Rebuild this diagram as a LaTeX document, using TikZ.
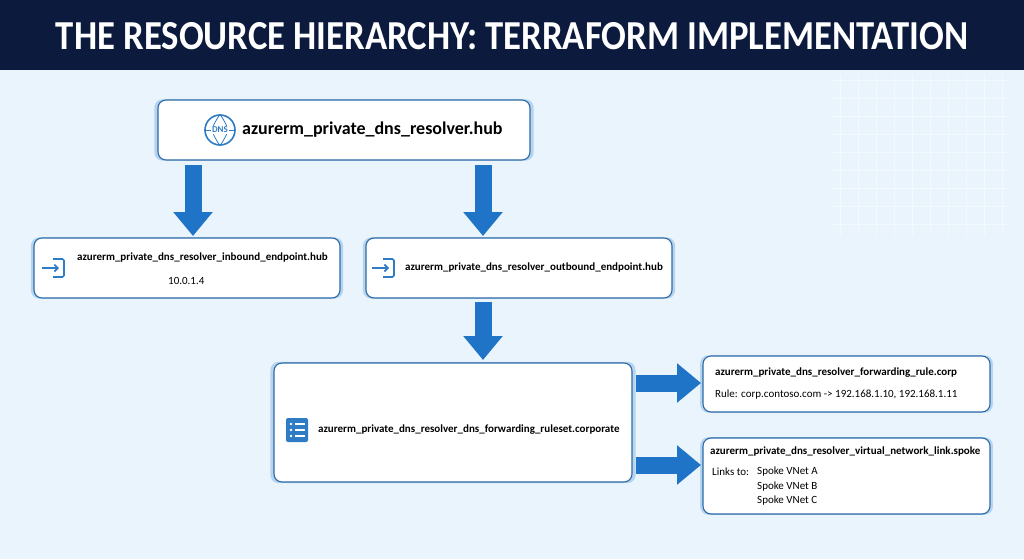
\documentclass[tikz,border=0pt]{standalone}
\usepackage{fontspec}
\setmainfont{Carlito}
\usetikzlibrary{arrows.meta,shadows}
\definecolor{navy}{HTML}{0B1A3D}
\definecolor{bg}{HTML}{EAF4FC}
\definecolor{bord}{HTML}{2A6AA8}
\definecolor{arr}{HTML}{1F74C8}
\definecolor{ico}{HTML}{2E7CC6}
\begin{document}
\begin{tikzpicture}[x=1pt,y=-1pt,
  box/.style={draw=bord,line width=1.1pt,fill=white,rounded corners=8pt,
    drop shadow={shadow xshift=0pt,shadow yshift=0pt,fill=arr,opacity=.25,shadow scale=1.02}},
  bigarrow/.style={line width=17pt,draw=arr,-{Triangle[width=38pt,length=24pt]}},
  lbl/.style={anchor=west,inner sep=0pt,font=\bfseries\fontsize{11}{13}\selectfont},
  sub/.style={anchor=west,inner sep=0pt,font=\fontsize{11}{13}\selectfont}]
\useasboundingbox (0,0) rectangle (1024,559);
\fill[bg] (0,0) rectangle (1024,559);
\fill[navy] (0,0) rectangle (1024,70);
\node[text=white,font=\bfseries] (title) at (512,36) {\resizebox{912pt}{27pt}{THE RESOURCE HIERARCHY: TERRAFORM IMPLEMENTATION}};
% faint grid
\foreach \i in {0,...,9}{\draw[white,line width=.6pt,opacity=.5] (840+\i*18,75) -- (840+\i*18,235);}
\foreach \j in {0,...,8}{\draw[white,line width=.6pt,opacity=.5] (830,80+\j*18) -- (1010,80+\j*18);}
% boxes
\node[box,minimum width=372pt,minimum height=60pt] (top) at (344,130) {};
\node[box,minimum width=306pt,minimum height=60pt] (inb) at (187,268) {};
\node[box,minimum width=306pt,minimum height=60pt] (outb) at (519,268) {};
\node[box,minimum width=358pt,minimum height=119pt] (rs) at (453,422.5) {};
\node[box,minimum width=287pt,minimum height=56pt] (rule) at (846.5,384) {};
\node[box,minimum width=287pt,minimum height=76pt] (vnet) at (846.5,476) {};
% icons
\node[circle,draw=ico,line width=1.6pt,minimum size=30pt,inner sep=0pt] (dnsicon) at (220,130) {};
\draw[ico,line width=.8pt] (dnsicon.north) .. controls (210,130) .. (dnsicon.south);
\draw[ico,line width=.8pt] (dnsicon.north) .. controls (230,130) .. (dnsicon.south);
\draw[ico,line width=.8pt] (dnsicon.west) -- (dnsicon.east);
\node[fill=white,inner sep=1pt,text=ico,font=\bfseries\fontsize{9}{9}\selectfont] (dnstxt) at (220,130) {DNS};
\node[lbl,font=\bfseries\fontsize{18}{20}\selectfont] (toptxt) at (242,130) {azurerm\_private\_dns\_resolver.hub};
\foreach \n/\x in {i1/55,i2/385}{
  \draw[ico,line width=1.6pt,rounded corners=1.5pt] (\x-2,259) -- (\x+9,259) -- (\x+9,277) -- (\x-2,277);
  \draw[ico,line width=1.6pt,-{Straight Barb[length=3.5pt,width=7pt]}] (\x-13,268) -- (\x+4,268);
}
\node[lbl] (inbt) at (77,258) {azurerm\_private\_dns\_resolver\_inbound\_endpoint.hub};
\node[sub] (inbip) at (168,281) {10.0.1.4};
\node[lbl] (outbt) at (405,268) {azurerm\_private\_dns\_resolver\_outbound\_endpoint.hub};
\node[fill=ico,rounded corners=2pt,minimum width=22pt,minimum height=24pt] (listicon) at (297,430) {};
\foreach \yy in {-6,0,6}{\fill[white] (291,430+\yy) circle (1.4pt); \fill[white] (295,429.1+\yy) rectangle (305,430.9+\yy);}
\node[lbl] (rst) at (318,430) {azurerm\_private\_dns\_resolver\_dns\_forwarding\_ruleset.corporate};
\node[lbl] (rulet) at (715,373) {azurerm\_private\_dns\_resolver\_forwarding\_rule.corp};
\node[sub] (rules) at (715,395) {Rule: corp.contoso.com -> 192.168.1.10, 192.168.1.11};
\node[lbl] (vnett) at (710,452) {azurerm\_private\_dns\_resolver\_virtual\_network\_link.spoke};
\node[sub] (lt) at (712,472) {Links to:};
\node[sub] (la) at (757,472) {Spoke VNet A};
\node[sub] (lb) at (757,486.5) {Spoke VNet B};
\node[sub] (lc) at (757,501) {Spoke VNet C};
% arrows
\coordinate (a1s) at (193,165); \coordinate (a1e) at (193,236);
\coordinate (a2s) at (483,165); \coordinate (a2e) at (483,236);
\coordinate (a3s) at (483,302); \coordinate (a3e) at (483,360);
\coordinate (a4s) at (636,383); \coordinate (a4e) at (701,383);
\coordinate (a5s) at (636,465); \coordinate (a5e) at (701,465);
\draw[bigarrow] (a1s) -- (a1e);
\draw[bigarrow] (a2s) -- (a2e);
\draw[bigarrow] (a3s) -- (a3e);
\draw[bigarrow] (a4s) -- (a4e);
\draw[bigarrow] (a5s) -- (a5e);
\end{tikzpicture}
\end{document}
